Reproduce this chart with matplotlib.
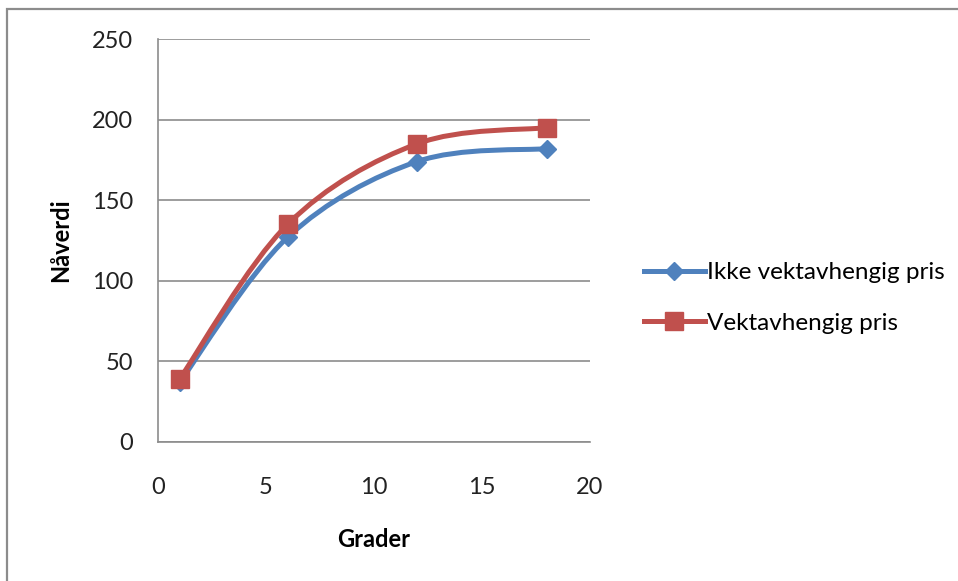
import numpy as np
import matplotlib
matplotlib.use('Agg')
import matplotlib.pyplot as plt
from matplotlib.path import Path
from matplotlib.patches import PathPatch, Rectangle
from matplotlib.lines import Line2D

plt.rcParams['font.family'] = ['Lato', 'DejaVu Sans']

# data
grader = [1, 6, 12, 18]
ikke_vekt = [37, 127, 174, 182]
vekt = [39, 135, 185, 195]
labels = ['Ikke vektavhengig pris', 'Vektavhengig pris']
blue = '#4F81BD'
red = '#C0504D'


def smooth_path(xs, ys):
    # excel-like smoothed line: bezier segments through the points
    p = np.column_stack([xs, ys]).astype(float)
    ext = np.vstack([p[0], p, p[-1]])
    verts = [p[0]]
    codes = [Path.MOVETO]
    for i in range(len(p) - 1):
        c1 = ext[i + 1] + (ext[i + 2] - ext[i]) / 6.0
        c2 = ext[i + 2] - (ext[i + 3] - ext[i + 1]) / 6.0
        verts += [c1, c2, p[i + 1]]
        codes += [Path.CURVE4] * 3
    return Path(verts, codes)


fig = plt.figure(figsize=(9.58, 5.81), dpi=100)
fig.patches.append(Rectangle((7 / 958, -0.1), 1.2, 1.1 - 9 / 581, transform=fig.transFigure,
                             fill=False, edgecolor='#8c8c8c', linewidth=1.6, zorder=-1))

ax = fig.add_axes([158 / 958, 1 - 442 / 581, 432 / 958, 403 / 581])
ax.set_xlim(0, 20)
ax.set_ylim(0, 250)
ax.set_xticks([0, 5, 10, 15, 20])
ax.set_yticks([0, 50, 100, 150, 200, 250])
ax.yaxis.grid(True, color='#8c8c8c', linewidth=1.2)
ax.set_axisbelow(True)
for s in ['top', 'right']:
    ax.spines[s].set_visible(False)
for s in ['left', 'bottom']:
    ax.spines[s].set_color('#8c8c8c')
    ax.spines[s].set_linewidth(1.2)
ax.tick_params(length=0, labelsize=17, colors='#222222')
ax.tick_params(axis='x', pad=25)
ax.tick_params(axis='y', pad=18)

for ys, col, mk, ms in [(ikke_vekt, blue, 'D', 9), (vekt, red, 's', 13)]:
    ax.add_patch(PathPatch(smooth_path(grader, ys), fill=False, edgecolor=col,
                           linewidth=3.6, capstyle='round', joinstyle='round'))
    ax.plot(grader, ys, linestyle='none', marker=mk, markersize=ms, color=col)

ax.set_xlabel('Grader', fontsize=17, fontweight='bold', labelpad=22)
ax.set_ylabel('Nåverdi', fontsize=17, fontweight='bold', labelpad=14)

handles = [Line2D([], [], color=blue, linewidth=3.6, marker='D', markersize=9),
           Line2D([], [], color=red, linewidth=3.6, marker='s', markersize=13)]
fig.legend(handles, labels, loc='center left', bbox_to_anchor=(622 / 958, 1 - 298 / 581),
           frameon=False, fontsize=17.5, handlelength=2.5, handletextpad=0.1,
           labelspacing=1.2)

fig.savefig('out.png', dpi=100)
